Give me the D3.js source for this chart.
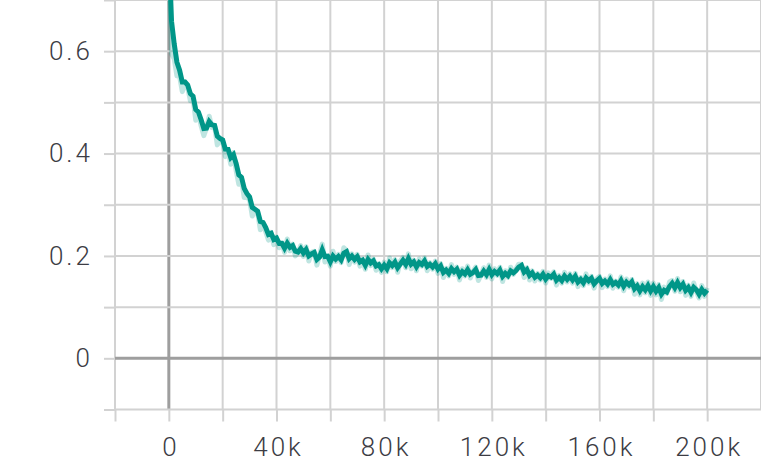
<!DOCTYPE html>
<html>
<head>
<meta charset="utf-8">
<script src="https://cdn.jsdelivr.net/npm/d3@7"></script>
<style>
  html, body { margin: 0; padding: 0; background: #fff; }
  svg { display: block; }
  .tick text { font-family: Roboto, 'Noto Sans', sans-serif; font-weight: 300; font-size: 26px; letter-spacing: 3px; fill: #3c3c44; }
</style>
</head>
<body>
<svg id="chart"></svg>
<script>
// training steps are logged every 1k
const STEP = 1000;
// raw loss values, one per logged step (0 .. 200k)
const lossRaw = [
	0.800, 0.595, 0.585, 0.552, 0.551, 0.521, 0.540, 0.529, 0.503, 0.508,
	0.465, 0.477, 0.454, 0.435, 0.450, 0.473, 0.451, 0.454, 0.417, 0.426,
	0.424, 0.394, 0.408, 0.379, 0.402, 0.367, 0.340, 0.350, 0.314, 0.314,
	0.310, 0.278, 0.288, 0.284, 0.251, 0.264, 0.247, 0.231, 0.246, 0.222,
	0.237, 0.216, 0.225, 0.207, 0.233, 0.210, 0.223, 0.200, 0.206, 0.220,
	0.199, 0.218, 0.190, 0.207, 0.209, 0.182, 0.202, 0.223, 0.188, 0.200,
	0.180, 0.209, 0.189, 0.203, 0.187, 0.216, 0.211, 0.183, 0.204, 0.188,
	0.203, 0.180, 0.194, 0.174, 0.202, 0.181, 0.194, 0.172, 0.185, 0.168,
	0.188, 0.169, 0.196, 0.177, 0.193, 0.168, 0.190, 0.197, 0.177, 0.204,
	0.175, 0.192, 0.171, 0.194, 0.180, 0.196, 0.171, 0.187, 0.174, 0.190,
	0.166, 0.185, 0.158, 0.176, 0.161, 0.183, 0.164, 0.178, 0.153, 0.175,
	0.161, 0.180, 0.157, 0.170, 0.178, 0.152, 0.163, 0.177, 0.158, 0.182,
	0.155, 0.175, 0.162, 0.178, 0.150, 0.171, 0.158, 0.178, 0.164, 0.175,
	0.184, 0.184, 0.158, 0.177, 0.153, 0.171, 0.151, 0.166, 0.153, 0.170,
	0.147, 0.167, 0.156, 0.169, 0.143, 0.162, 0.147, 0.168, 0.149, 0.165,
	0.147, 0.166, 0.140, 0.158, 0.142, 0.165, 0.147, 0.160, 0.137, 0.156,
	0.160, 0.138, 0.155, 0.140, 0.161, 0.137, 0.151, 0.139, 0.159, 0.132,
	0.155, 0.139, 0.154, 0.125, 0.146, 0.124, 0.147, 0.128, 0.149, 0.123,
	0.147, 0.124, 0.144, 0.115, 0.139, 0.127, 0.149, 0.152, 0.131, 0.156,
	0.130, 0.150, 0.123, 0.143, 0.121, 0.147, 0.130, 0.118, 0.142, 0.121,
	0.138
];
const xTicks = [-20000, 0, 20000, 40000, 60000, 80000, 100000, 120000, 140000, 160000, 180000, 200000, 220000];
const xLabels = [0, 40000, 80000, 120000, 160000, 200000];
const yTicks = [-0.1, 0, 0.1, 0.2, 0.3, 0.4, 0.5, 0.6, 0.7];
const yLabels = [0, 0.2, 0.4, 0.6];
const SMOOTHING = 0.45;

const width = 761;
const height = 461;
const COLOR = '#009688';
const GRID = '#d2d2d2';
const ZERO = '#9e9e9e';

const $svg = d3.select('#chart').attr('width', width).attr('height', height);

const x = d3.scaleLinear().domain([-20000, 220000]).range([115, 761]);
const y = d3.scaleLinear().domain([-0.1, 0.7]).range([409.5, 0]);

// tensorboard-style debiased exponential moving average
function smooth(values, w) {
	let last = 0;
	return values.map((v, i) => {
		last = last * w + (1 - w) * v;
		return last / (1 - Math.pow(w, i + 1));
	});
}

const raw = lossRaw.map((v, i) => ({ step: i * STEP, value: v }));
const smoothed = smooth(lossRaw, SMOOTHING).map((v, i) => ({ step: i * STEP, value: v }));

// grid
const $grid = $svg.append('g').attr('class', 'grid');
$grid.selectAll('.vgrid')
	.data(xTicks)
	.enter()
	.append('line')
	.attr('x1', d => x(d)).attr('x2', d => x(d))
	.attr('y1', 0).attr('y2', y(-0.1))
	.attr('stroke', d => (d === 0 ? ZERO : GRID))
	.attr('stroke-width', d => (d === 0 ? 3 : 2));

$grid.selectAll('.hgrid')
	.data(yTicks)
	.enter()
	.append('line')
	.attr('x1', x(-20000)).attr('x2', width)
	.attr('y1', d => y(d)).attr('y2', d => y(d))
	.attr('stroke', d => (d === 0 ? ZERO : GRID))
	.attr('stroke-width', d => (d === 0 ? 3 : 2));

// axes
const fmtX = d => (xLabels.includes(d) ? (d === 0 ? '0' : `${d / 1000}k`) : '');
const fmtY = d => (yLabels.some(l => Math.abs(l - d) < 1e-9) ? d3.format('~g')(+d.toFixed(1)) : '');

const $xAxis = $svg.append('g')
	.attr('transform', `translate(0,${y(-0.1)})`)
	.call(d3.axisBottom(x).tickValues(xTicks.slice(0, -1)).tickSize(12).tickPadding(16).tickFormat(fmtX));

const $yAxis = $svg.append('g')
	.attr('transform', `translate(${x(-20000)},0)`)
	.call(d3.axisLeft(y).tickValues(yTicks).tickSize(11).tickPadding(11).tickFormat(fmtY));

[$xAxis, $yAxis].forEach($a => {
	$a.select('.domain').remove();
	$a.selectAll('.tick line').attr('stroke', GRID).attr('stroke-width', 2);
});
$xAxis.selectAll('.tick text').attr('dx', '1.5px');

// lines
const line = d3.line()
	.x(d => x(d.step))
	.y(d => y(d.value));

$svg.append('path')
	.datum(raw)
	.attr('d', line)
	.attr('fill', 'none')
	.attr('stroke', COLOR)
	.attr('stroke-opacity', 0.25)
	.attr('stroke-width', 5)
	.attr('stroke-linejoin', 'round');

$svg.append('path')
	.datum(smoothed)
	.attr('d', line)
	.attr('fill', 'none')
	.attr('stroke', COLOR)
	.attr('stroke-width', 5)
	.attr('stroke-linejoin', 'miter');
</script>
</body>
</html>
